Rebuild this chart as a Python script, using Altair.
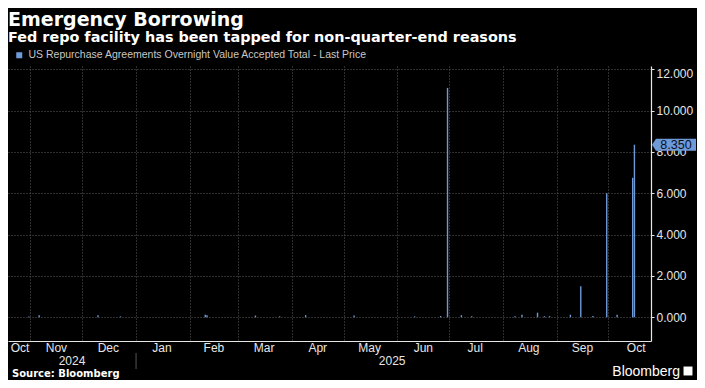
import altair as alt
import pandas as pd

# ---- data ----
dates = ["2024-10-31", "2024-11-06", "2024-12-10", "2024-12-23", "2025-02-10", "2025-02-11",
         "2025-03-11", "2025-03-25", "2025-04-09", "2025-05-07", "2025-06-11", "2025-06-26",
         "2025-06-30", "2025-07-08", "2025-07-14", "2025-08-08", "2025-08-12", "2025-08-21",
         "2025-08-25", "2025-08-28", "2025-09-09", "2025-09-15", "2025-09-22", "2025-09-30",
         "2025-10-06", "2025-10-15", "2025-10-16"]
values = [0.03, 0.10, 0.10, 0.04, 0.12, 0.10,
          0.08, 0.04, 0.10, 0.08, 0.04, 0.06,
          11.10, 0.10, 0.05, 0.05, 0.12, 0.22,
          0.05, 0.05, 0.12, 1.50, 0.06, 6.00,
          0.12, 6.75, 8.35]
series_name = "US Repurchase Agreements Overnight Value Accepted Total - Last Price"

month_starts = [(2024, 11), (2024, 12), (2025, 1), (2025, 2), (2025, 3), (2025, 4),
                (2025, 5), (2025, 6), (2025, 7), (2025, 8), (2025, 9), (2025, 10)]
month_labels = ["Oct", "Nov", "Dec", "Jan", "Feb", "Mar", "Apr", "May", "Jun", "Jul", "Aug", "Sep", "Oct"]
month_label_dates = ["2024-10-26", "2024-11-16", "2024-12-16", "2025-01-16", "2025-02-15", "2025-03-16",
                     "2025-04-16", "2025-05-16", "2025-06-16", "2025-07-16", "2025-08-16", "2025-09-16",
                     "2025-10-17"]
year_labels = ["2024", "2025"]
year_label_dates = ["2024-11-25", "2025-05-29"]
year_separator = ["2025-01-01"]
y_ticks = list(range(0, 13))

title_text = "Emergency Borrowing"
subtitle_text = "Fed repo facility has been tapped for non-quarter-end reasons"
source_text = "Source: Bloomberg"
brand_text = "Bloomberg"

BAR = "#6f9ad8"
GRID = "#5a5a5a"
AXIS = "#e6e6e6"
FONT = "Liberation Sans"
BOLD = "DejaVu Sans"

W, H = 643, 275

df = pd.DataFrame({"date": dates, "value": values, "series": series_name})
last = df.tail(1).assign(label=lambda d: d["value"].map(lambda v: f"{v:.3f}"))
months_df = pd.DataFrame({"date": month_label_dates, "label": month_labels})
years_df = pd.DataFrame({"date": year_label_dates, "label": year_labels})
sep_df = pd.DataFrame({"date": year_separator})
head_df = pd.DataFrame({"t": [title_text], "s": [subtitle_text], "src": [source_text], "b": [brand_text]})

x_scale = alt.Scale(type="utc", padding=0,
                    domain=[alt.DateTime(year=2024, month=10, date=19, utc=True),
                            alt.DateTime(year=2025, month=10, date=25, hours=14, utc=True)])
y_scale = alt.Scale(domain=[-1.15, 12.16], nice=False, zero=False, padding=0)

x_axis = alt.Axis(values=[alt.DateTime(year=y, month=m, date=1, utc=True) for y, m in month_starts],
                  grid=True, gridColor=GRID, gridDash=[1, 2], gridWidth=1,
                  labels=False, ticks=False, domain=True, domainColor=AXIS, domainWidth=1.2, title=None)
y_axis = alt.Axis(orient="right", values=y_ticks,
                  labelExpr="datum.value % 2 == 0 ? format(datum.value, '.3f') : ''",
                  tickSize=3, tickColor=AXIS, domainColor=AXIS, domainWidth=1.2,
                  grid=True, gridColor=GRID, gridDash=[1, 2],
                  gridOpacity={"condition": {"test": "datum.value % 2 !== 0", "value": 0}, "value": 1},
                  labelFont=FONT, labelFontSize=12, labelColor=AXIS, labelPadding=2,
                  labelOffset={"condition": {"test": "datum.value == 12", "value": 4}, "value": 0},
                  labelFlush=False, labelOverlap=False,
                  title=None)

bars = alt.Chart(df).mark_bar(size=1.4).encode(
    x=alt.X("date:T", scale=x_scale, axis=x_axis),
    y=alt.Y("value:Q", scale=y_scale, axis=y_axis),
    color=alt.Color("series:N", scale=alt.Scale(range=[BAR]),
                    legend=alt.Legend(orient="none", legendX=6, legendY=-16, title=None,
                                      symbolType="square", symbolSize=36, symbolStrokeWidth=0,
                                      labelFont=FONT, labelFontSize=10.5, labelColor="#c8c8c8",
                                      labelLimit=600)),
)

tag_shape = "M -1 0 L -0.82 -0.27 L 1 -0.27 L 1 0.27 L -0.82 0.27 Z"
tag = alt.Chart(last).mark_point(shape=tag_shape, size=1936, filled=True, opacity=1,
                                 color=BAR).encode(x=alt.value(W + 23), y=alt.Y("value:Q", scale=y_scale))
tag_text = alt.Chart(last).mark_text(font=FONT, fontSize=12.5, color="#0a0f1e", align="center",
                                     baseline="middle").encode(
    x=alt.value(W + 25), y=alt.Y("value:Q", scale=y_scale), text="label:N")

month_text = alt.Chart(months_df).mark_text(font=FONT, fontSize=12, color=AXIS, baseline="middle").encode(
    x=alt.X("date:T", scale=x_scale), y=alt.value(H + 7), text="label:N")
year_text = alt.Chart(years_df).mark_text(font=FONT, fontSize=12, color=AXIS, baseline="middle").encode(
    x=alt.X("date:T", scale=x_scale), y=alt.value(H + 20), text="label:N")
sep_rule = alt.Chart(sep_df).mark_rule(color="#555555", strokeWidth=1).encode(
    x=alt.X("date:T", scale=x_scale), y=alt.value(H + 12), y2=alt.value(H + 28))

title = alt.Chart(head_df).mark_text(font=BOLD, fontWeight="bold", fontSize=19, color="#ffffff",
                                     align="left", baseline="alphabetic").encode(
    x=alt.value(0), y=alt.value(-40), text="t:N")
subtitle = alt.Chart(head_df).mark_text(font=BOLD, fontWeight="bold", fontSize=14.4, color="#ffffff",
                                        align="left", baseline="alphabetic").encode(
    x=alt.value(0), y=alt.value(-24), text="s:N")
source = alt.Chart(head_df).mark_text(font=BOLD, fontWeight="bold", fontSize=10, color="#ffffff",
                                      align="left", baseline="alphabetic").encode(
    x=alt.value(4), y=alt.value(H + 36), text="src:N")
brand = alt.Chart(head_df).mark_text(font=FONT, fontSize=14, color="#ffffff",
                                     align="right", baseline="alphabetic").encode(
    x=alt.value(672), y=alt.value(H + 35), text="b:N")
brand_icon = alt.Chart(head_df).mark_point(shape="square", filled=True, size=80, opacity=1,
                                           color="#ffffff").encode(
    x=alt.value(680), y=alt.value(H + 30))

chart = alt.layer(bars, tag, tag_text, month_text, year_text, sep_rule,
                  title, subtitle, source, brand, brand_icon).properties(
    width=W, height=H,
    autosize=alt.AutoSizeParams(type="none"),
    padding={"left": 0, "top": 58, "right": 46, "bottom": 39},
    background="#000000",
).configure_view(stroke=None)

chart.save("out.html", embed_options={"renderer": "svg", "actions": False})
